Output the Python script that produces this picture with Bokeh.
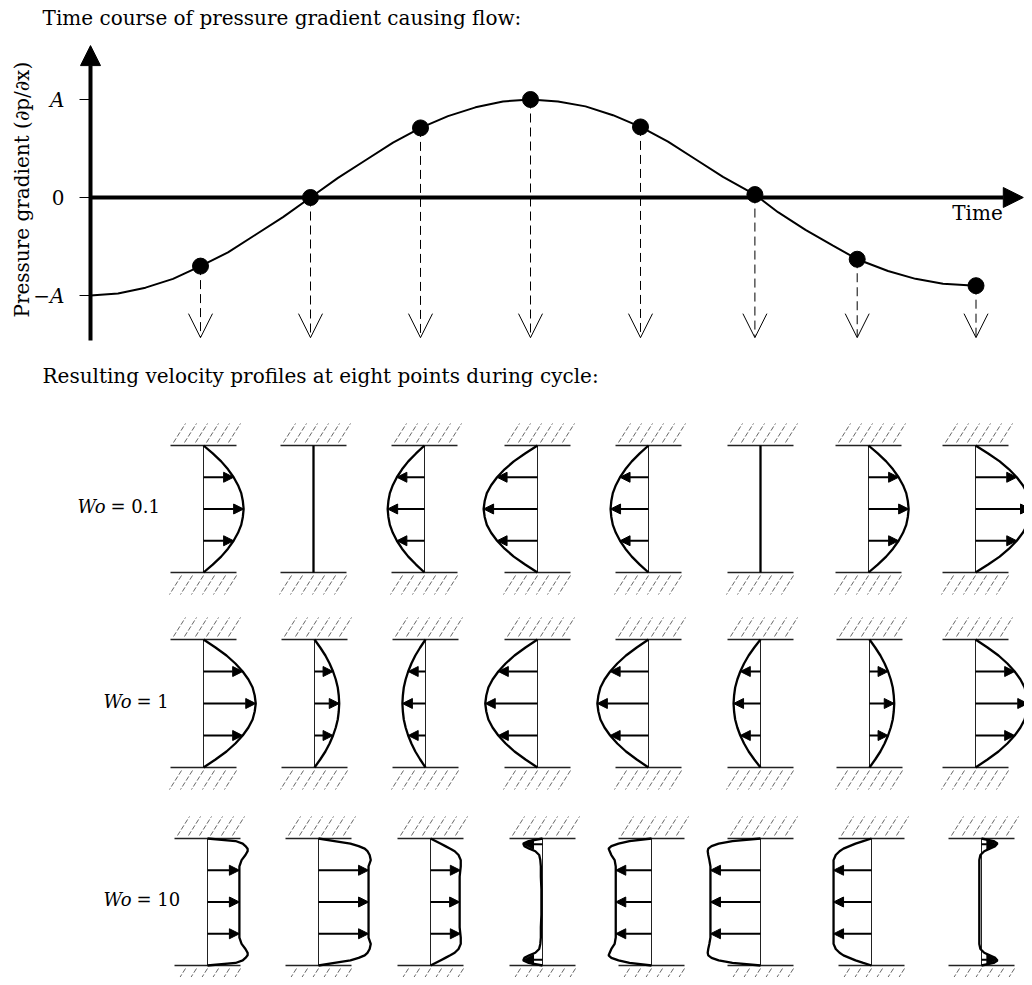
import numpy as np
from bokeh.plotting import figure
from bokeh.models import Range1d, Arrow, NormalHead, OpenHead, ColumnDataSource
from bokeh.layouts import column
from bokeh.embed import file_html
from bokeh.resources import INLINE
from bokeh.core.properties import value

FONT = "DejaVu Serif"
FS = "20px"
FS_WO = "18px"

# ---------------- data: pressure gradient time course ----------------
curve_t = [0.0, 0.25, 0.5, 0.75, 1.0, 1.25, 1.5, 1.75, 2.0, 2.25, 2.5, 2.75, 3.0,
           3.25, 3.5, 3.75, 4.0, 4.25, 4.5, 4.75, 5.0, 5.25, 5.5, 5.75, 6.04,
           6.25, 6.5, 6.75, 6.97, 7.25, 7.5, 7.75, 8.05]
curve_dpdx = [-1.00, -0.98, -0.92, -0.83, -0.70, -0.56, -0.38, -0.20, 0.00,
              0.20, 0.38, 0.56, 0.71, 0.83, 0.92, 0.98, 1.00, 0.98, 0.93,
              0.84, 0.72, 0.57, 0.39, 0.21, 0.03, -0.15, -0.33, -0.49, -0.63,
              -0.75, -0.83, -0.88, -0.90]
phase_t = [1, 2, 3, 4, 5, 6.04, 6.97, 8.05]
phase_dpdx = [-0.70, 0.00, 0.71, 1.00, 0.72, 0.03, -0.63, -0.90]
tick_vals = [1, 0, -1]
tick_labels = ["A", "0", "\u2212A"]

# ---------------- data: velocity profiles ----------------
# parabolic (quasi-steady) profile shape, eta = 0 (top wall) .. 1 (bottom wall)
par_eta = [0.0, 0.0625, 0.125, 0.1875, 0.25, 0.3125, 0.375, 0.4375, 0.5,
           0.5625, 0.625, 0.6875, 0.75, 0.8125, 0.875, 0.9375, 1.0]
par_shape = [0.0, 0.23, 0.44, 0.61, 0.75, 0.86, 0.94, 0.98, 1.0,
             0.98, 0.94, 0.86, 0.75, 0.61, 0.44, 0.23, 0.0]
amp_wo01 = [0.73, 0.0, -0.67, -0.98, -0.69, 0.0, 0.73, 1.00]
amp_wo1 = [0.95, 0.45, -0.42, -0.95, -0.93, -0.49, 0.45, 0.95]

# Wo = 10 profiles, half channel (wall -> centre), mirrored for the other half
wo10_eta_half = [0.0, 0.02, 0.04, 0.06, 0.08, 0.10, 0.13, 0.17, 0.22, 0.30, 0.40, 0.50]
wo10_half = [
    [0, 0.51, 0.64, 0.69, 0.73, 0.73, 0.69, 0.62, 0.58, 0.58, 0.58, 0.58],
    [0, 0.29, 0.58, 0.73, 0.84, 0.89, 0.93, 0.95, 0.91, 0.91, 0.91, 0.91],
    [0, 0.09, 0.18, 0.27, 0.36, 0.44, 0.51, 0.55, 0.55, 0.53, 0.53, 0.53],
    [0, -0.25, -0.35, -0.33, -0.24, -0.13, -0.06, -0.04, -0.03, -0.03, -0.02, -0.02],
    [0, -0.40, -0.60, -0.73, -0.78, -0.76, -0.73, -0.67, -0.65, -0.65, -0.65, -0.65],
    [0, -0.51, -0.76, -0.89, -0.95, -0.96, -0.95, -0.93, -0.91, -0.91, -0.91, -0.91],
    [0, -0.15, -0.29, -0.40, -0.51, -0.58, -0.65, -0.69, -0.69, -0.69, -0.69, -0.69],
    [0, 0.22, 0.29, 0.25, 0.15, 0.05, -0.02, -0.04, -0.04, -0.04, -0.04, -0.04],
]
wo_labels = ["0.1", "1", "10"]

# ---------------- layout constants ----------------
W = 1024
TOP_H = 352
BOT_H = 625
UNIT_PX = 55          # px per velocity unit
WALL_HALF = 33
row_top = [445, 639, 838]
row_bot = [572, 767, 965]
col_x = [[203, 313, 424, 537, 648, 760, 868, 975],
         [203, 314, 425, 537, 648, 760, 869, 975],
         [207, 318, 430, 542, 651, 760, 871, 981]]

# ================= top figure =================
p1 = figure(width=W, height=TOP_H, x_range=Range1d(-0.8182, 8.4909),
            y_range=Range1d(-1.5816, 2.0102), output_backend="svg",
            toolbar_location=None, x_axis_type=None, y_axis_type=None,
            min_border=0)
p1.grid.visible = False
p1.outline_line_color = None

p1.text(x=[-0.436], y=[1.827], text=["Time course of pressure gradient causing flow:"],
        text_font=value(FONT), text_font_size=FS, text_align="left",
        text_baseline="middle", text_color="black")

# axes with arrows
p1.add_layout(Arrow(x_start=0, y_start=-1.46, x_end=0, y_end=1.55, line_width=4,
                    line_color="black",
                    end=NormalHead(size=20, fill_color="black", line_color="black")))
p1.add_layout(Arrow(x_start=0, y_start=0, x_end=8.48, y_end=0, line_width=4,
                    line_color="black",
                    end=NormalHead(size=20, fill_color="black", line_color="black")))
p1.segment(x0=[-0.1] * 3, y0=tick_vals, x1=[0] * 3, y1=tick_vals,
           line_width=1, line_color="black")
p1.text(x=[-0.236, -0.236, -0.236], y=tick_vals, text=tick_labels,
        text_font=value(FONT), text_font_size=FS,
        text_font_style=["italic", "normal", "italic"],
        text_align="right", text_baseline="middle", text_color="black")
p1.text(x=[-0.62], y=[0.08], text=["Pressure gradient (\u2202p/\u2202x)"], angle=np.pi / 2,
        text_font=value(FONT), text_font_size=FS, text_align="center",
        text_baseline="middle", text_color="black")
p1.text(x=[8.064], y=[-0.163], text=["Time"], text_font=value(FONT), text_font_size=FS,
        text_align="center", text_baseline="middle", text_color="black")

p1.line(curve_t, curve_dpdx, line_width=2, line_color="black")
arr_src = ColumnDataSource(dict(x0=phase_t, y0=phase_dpdx, x1=phase_t, y1=[-1.43] * 8))
p1.add_layout(Arrow(source=arr_src, x_start="x0", y_start="y0", x_end="x1", y_end="y1",
                    line_width=1, line_color="black", line_dash="9 5",
                    end=OpenHead(size=24, line_width=1, line_color="black")))
p1.scatter(phase_t, phase_dpdx, size=16, color="black")

# ================= bottom figure =================
p2 = figure(width=W, height=BOT_H, x_range=Range1d(0, W), y_range=Range1d(352 + BOT_H, 352),
            output_backend="svg", toolbar_location=None, x_axis_type=None,
            y_axis_type=None, min_border=0)
p2.grid.visible = False
p2.outline_line_color = None

p2.text(x=[42], y=[375], text=["Resulting velocity profiles at eight points during cycle:"],
        text_font=value(FONT), text_font_size=FS, text_align="left",
        text_baseline="middle", text_color="black")

wo10_eta = wo10_eta_half + [1 - e for e in reversed(wo10_eta_half[:-1])]
profiles = [
    [(par_eta, [a * s for s in par_shape]) for a in amp_wo01],
    [(par_eta, [a * s for s in par_shape]) for a in amp_wo1],
    [(wo10_eta, h + list(reversed(h[:-1]))) for h in wo10_half],
]

wall_x0, wall_x1, wall_y = [], [], []
hx0, hy0, hx1, hy1 = [], [], [], []
vx0, vy0, vx1, vy1 = [], [], [], []
pxs, pys = [], []
ax0, ay0, ax1, ay1 = [], [], [], []
for r in range(3):
    top, bot = row_top[r], row_bot[r]
    h = bot - top
    for c in range(8):
        cx = col_x[r][c]
        for wy in (top, bot):
            wall_x0.append(cx - WALL_HALF); wall_x1.append(cx + WALL_HALF); wall_y.append(wy)
        for k in range(6):
            bx = cx - 30 + 11 * k
            hx0.append(bx); hy0.append(top - 3); hx1.append(bx + 12); hy1.append(top - 22)
            bx = cx - 22 + 11 * k
            hx0.append(bx); hy0.append(bot + 3); hx1.append(bx - 12); hy1.append(bot + 22)
        vx0.append(cx); vy0.append(top); vx1.append(cx); vy1.append(bot)
        eta, u = profiles[r][c]
        pxs.append([cx + v * UNIT_PX for v in u])
        pys.append([top + e * h for e in eta])
        if r == 2 and c in (3, 7):
            arrow_eta = [0.045, 0.955]
        elif max(abs(v) for v in u) < 1e-6:
            arrow_eta = []
        else:
            arrow_eta = [0.25, 0.5, 0.75]
        for e in arrow_eta:
            ue = float(np.interp(e, eta, u))
            ax0.append(cx); ay0.append(top + e * h)
            ax1.append(cx + ue * UNIT_PX); ay1.append(top + e * h)

p2.segment(x0=hx0, y0=hy0, x1=hx1, y1=hy1, line_width=1, line_color="#666666",
           line_dash="5 2")
p2.segment(x0=wall_x0, y0=wall_y, x1=wall_x1, y1=wall_y, line_width=1.5, line_color="#222222")
p2.segment(x0=vx0, y0=vy0, x1=vx1, y1=vy1, line_width=1, line_color="#222222")
p2.multi_line(xs=pxs, ys=pys, line_width=2.3, line_color="black")
asrc = ColumnDataSource(dict(x0=ax0, y0=ay0, x1=ax1, y1=ay1))
p2.add_layout(Arrow(source=asrc, x_start="x0", y_start="y0", x_end="x1", y_end="y1",
                    line_width=2, line_color="black",
                    end=NormalHead(size=10, fill_color="black", line_color="black")))

# row labels
lab_y = [506, 701, 899]
wo_right = [105, 131, 131]
p2.text(x=wo_right, y=lab_y, text=["Wo"] * 3, text_font=value(FONT), text_font_size=FS_WO,
        text_font_style="italic", text_align="right", text_baseline="middle",
        text_color="black")
p2.text(x=[w + 5 for w in wo_right], y=lab_y, text=["= " + s for s in wo_labels],
        text_font=value(FONT), text_font_size=FS_WO, text_align="left",
        text_baseline="middle", text_color="black")

layout = column(p1, p2, spacing=0)
open("out.html", "w").write(file_html(layout, INLINE))
